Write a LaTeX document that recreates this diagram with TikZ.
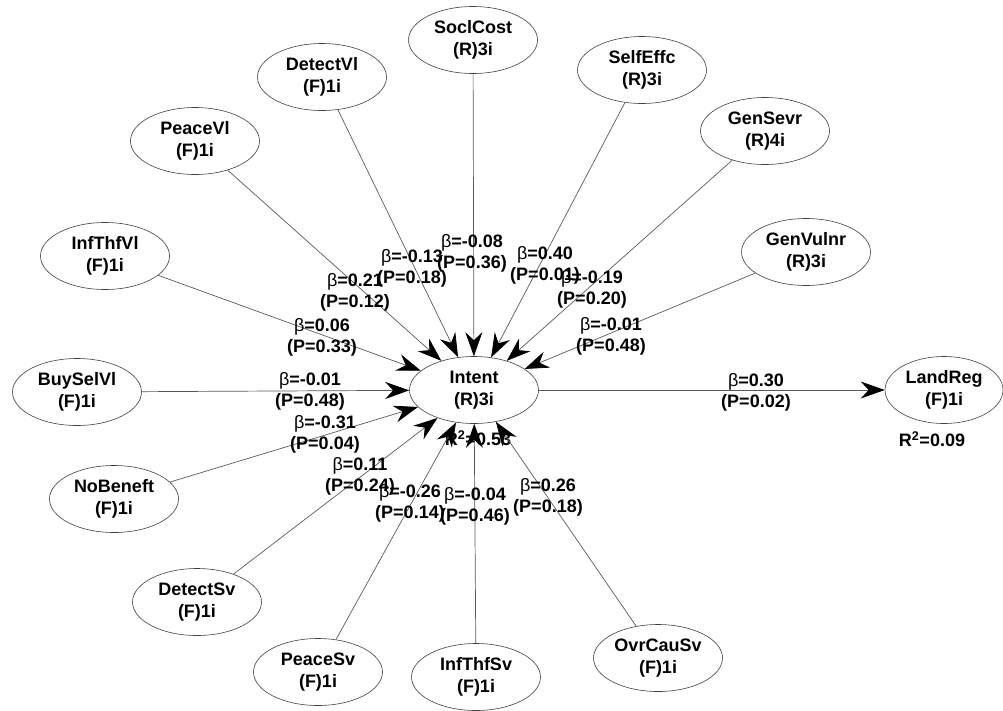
\documentclass[tikz,border=0pt]{standalone}
\usepackage{fontspec}
\setmainfont{Liberation Sans}
\usetikzlibrary{shapes.geometric,arrows.meta}
\tikzset{
  construct/.style = {draw=black!75, line width=0.6pt, ellipse,
    minimum width=129pt, minimum height=67pt, inner sep=0pt,
    align=center, font=\bfseries\fontsize{18}{22}\selectfont},
  regpath/.style = {draw=black!65, line width=0.7pt,
    -{Stealth[length=24pt,width=17pt,inset=8pt,black]}},
  coef/.style = {align=center, inner sep=0pt,
    font=\bfseries\fontsize{18}{21}\selectfont}
}
\newcommand{\betasym}{{\mdseries β}}

\begin{document}
\begin{tikzpicture}[x=1pt,y=-1pt]
  \useasboundingbox (0,0) rectangle (1003,710);
  \node[construct] (intent) at (474,390) {Intent\\(R)3i};
  \node[construct, minimum width=118pt] (landreg) at (944,390) {LandReg\\(F)1i};
  % explained variance
  \node[coef] (r2-intent) at (478,438) {R\textsuperscript{2}=0.53};
  \node[coef] (r2-landreg) at (932,439) {R\textsuperscript{2}=0.09};
  % predictors of intent: name/label/type/items/centre/coefficient position/beta/p
  \foreach \name/\txt/\kd/\nind/\cx/\cy/\lx/\ly/\bv/\pv in {
    soclcost/SoclCost/R/3/473/40/472/253/-0.08/0.36,
    detectvl/DetectVl/F/1/322/77/412/268/-0.13/0.18,
    peacevl/PeaceVl/F/1/195/141/355/292/0.21/0.12,
    infthfvl/InfThfVl/F/1/105/256/322/337/0.06/0.33,
    buyselvl/BuySelVl/F/1/77/392/310/391/-0.01/0.48,
    nobeneft/NoBeneft/F/1/114/499/325/434/-0.31/0.04,
    detectsv/DetectSv/F/1/197/602/360/476/0.11/0.24,
    peacesv/PeaceSv/F/1/318/672/410/503/-0.26/0.14,
    infthfsv/InfThfSv/F/1/476/677/475/506/-0.04/0.46,
    ovrcausv/OvrCauSv/F/1/658/658/548/497/0.26/0.18,
    genvulnr/GenVulnr/R/3/806/252/611/336/-0.01/0.48,
    gensevr/GenSevr/R/4/765/131/592/289/-0.19/0.20,
    selfeffc/SelfEffc/R/3/642/70/545/265/0.40/0.01} {
    \node[construct] (\name) at (\cx,\cy) {\txt\\(\kd)\nind i};
    \draw[regpath] (\name) -- (intent);
    \node[coef] (c-\name) at (\lx,\ly) {\betasym=\bv\\(P=\pv)};
  }
  \draw[regpath] (intent) -- (landreg);
  \node[coef] (c-landreg) at (756,392) {\betasym=0.30\\(P=0.02)};
\end{tikzpicture}
\end{document}
